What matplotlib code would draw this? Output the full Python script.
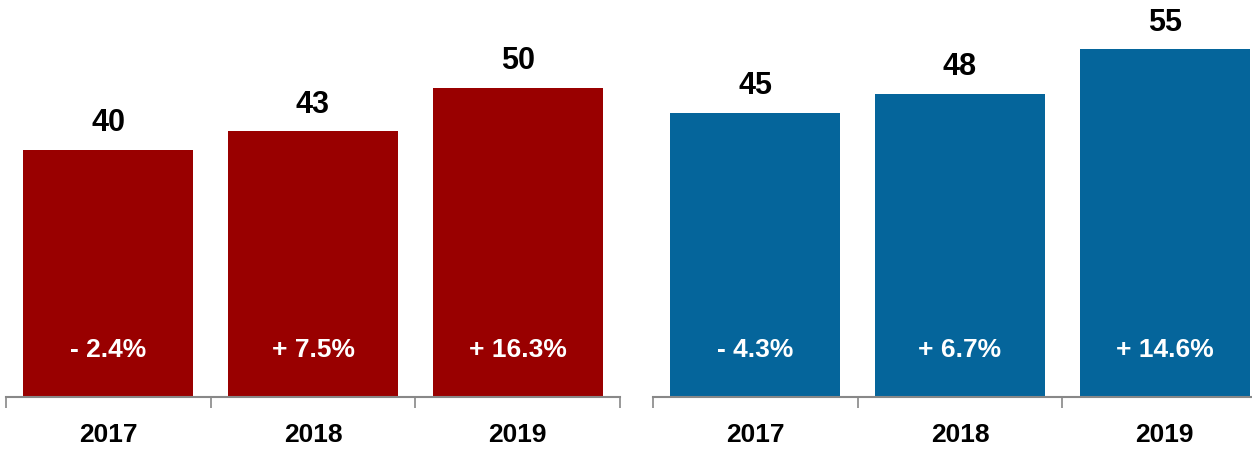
import matplotlib.pyplot as plt
from matplotlib.ticker import FixedLocator

years = ['2017', '2018', '2019']
left_values = [40, 43, 50]
left_changes = ['- 2.4%', '+ 7.5%', '+ 16.3%']
right_values = [45, 48, 55]
right_changes = ['- 4.3%', '+ 6.7%', '+ 14.6%']

plt.rcParams['font.family'] = ['Liberation Sans', 'DejaVu Sans']

fig = plt.figure(figsize=(12.52, 4.5), dpi=100)


# One panel of three bars with value on top and change inside
def draw_panel(ax, values, changes, color, ymax):
    x = list(range(len(values)))
    ax.bar(x, values, width=0.83, color=color)
    for xi, v, c in zip(x, values, changes):
        ax.annotate(f'{v}', xy=(xi, v), xytext=(0, 19), textcoords='offset points',
                    ha='center', va='center', fontsize=22, fontweight='bold', color='black')
        ax.annotate(c, xy=(xi, 0), xytext=(0, 34), textcoords='offset points',
                    ha='center', va='center', fontsize=19, fontweight='bold', color='white')
    ax.set_xlim(-0.5, len(values) - 0.5)
    ax.set_ylim(0, ymax)
    ax.set_xticks(x)
    ax.set_xticklabels(years, fontsize=19, fontweight='bold')
    ax.tick_params(axis='x', which='major', length=0, pad=19)
    ax.xaxis.set_minor_locator(FixedLocator([-0.5, 0.5, 1.5, 2.5]))
    ax.tick_params(axis='x', which='minor', length=8, width=1.2, color='#888888')
    ax.set_yticks([])
    for side in ['top', 'right', 'left']:
        ax.spines[side].set_visible(False)
    ax.spines['bottom'].set_color('#888888')
    ax.spines['bottom'].set_linewidth(1.5)


bottom = 53 / 450
height = 397 / 450
ax1 = fig.add_axes([6 / 1252, bottom, 614 / 1252, height])
ax2 = fig.add_axes([653 / 1252, bottom, 614 / 1252, height])
draw_panel(ax1, left_values, left_changes, '#990000', 64.2)
draw_panel(ax2, right_values, right_changes, '#05659b', 62.8)

fig.savefig('out.png', dpi=100)
